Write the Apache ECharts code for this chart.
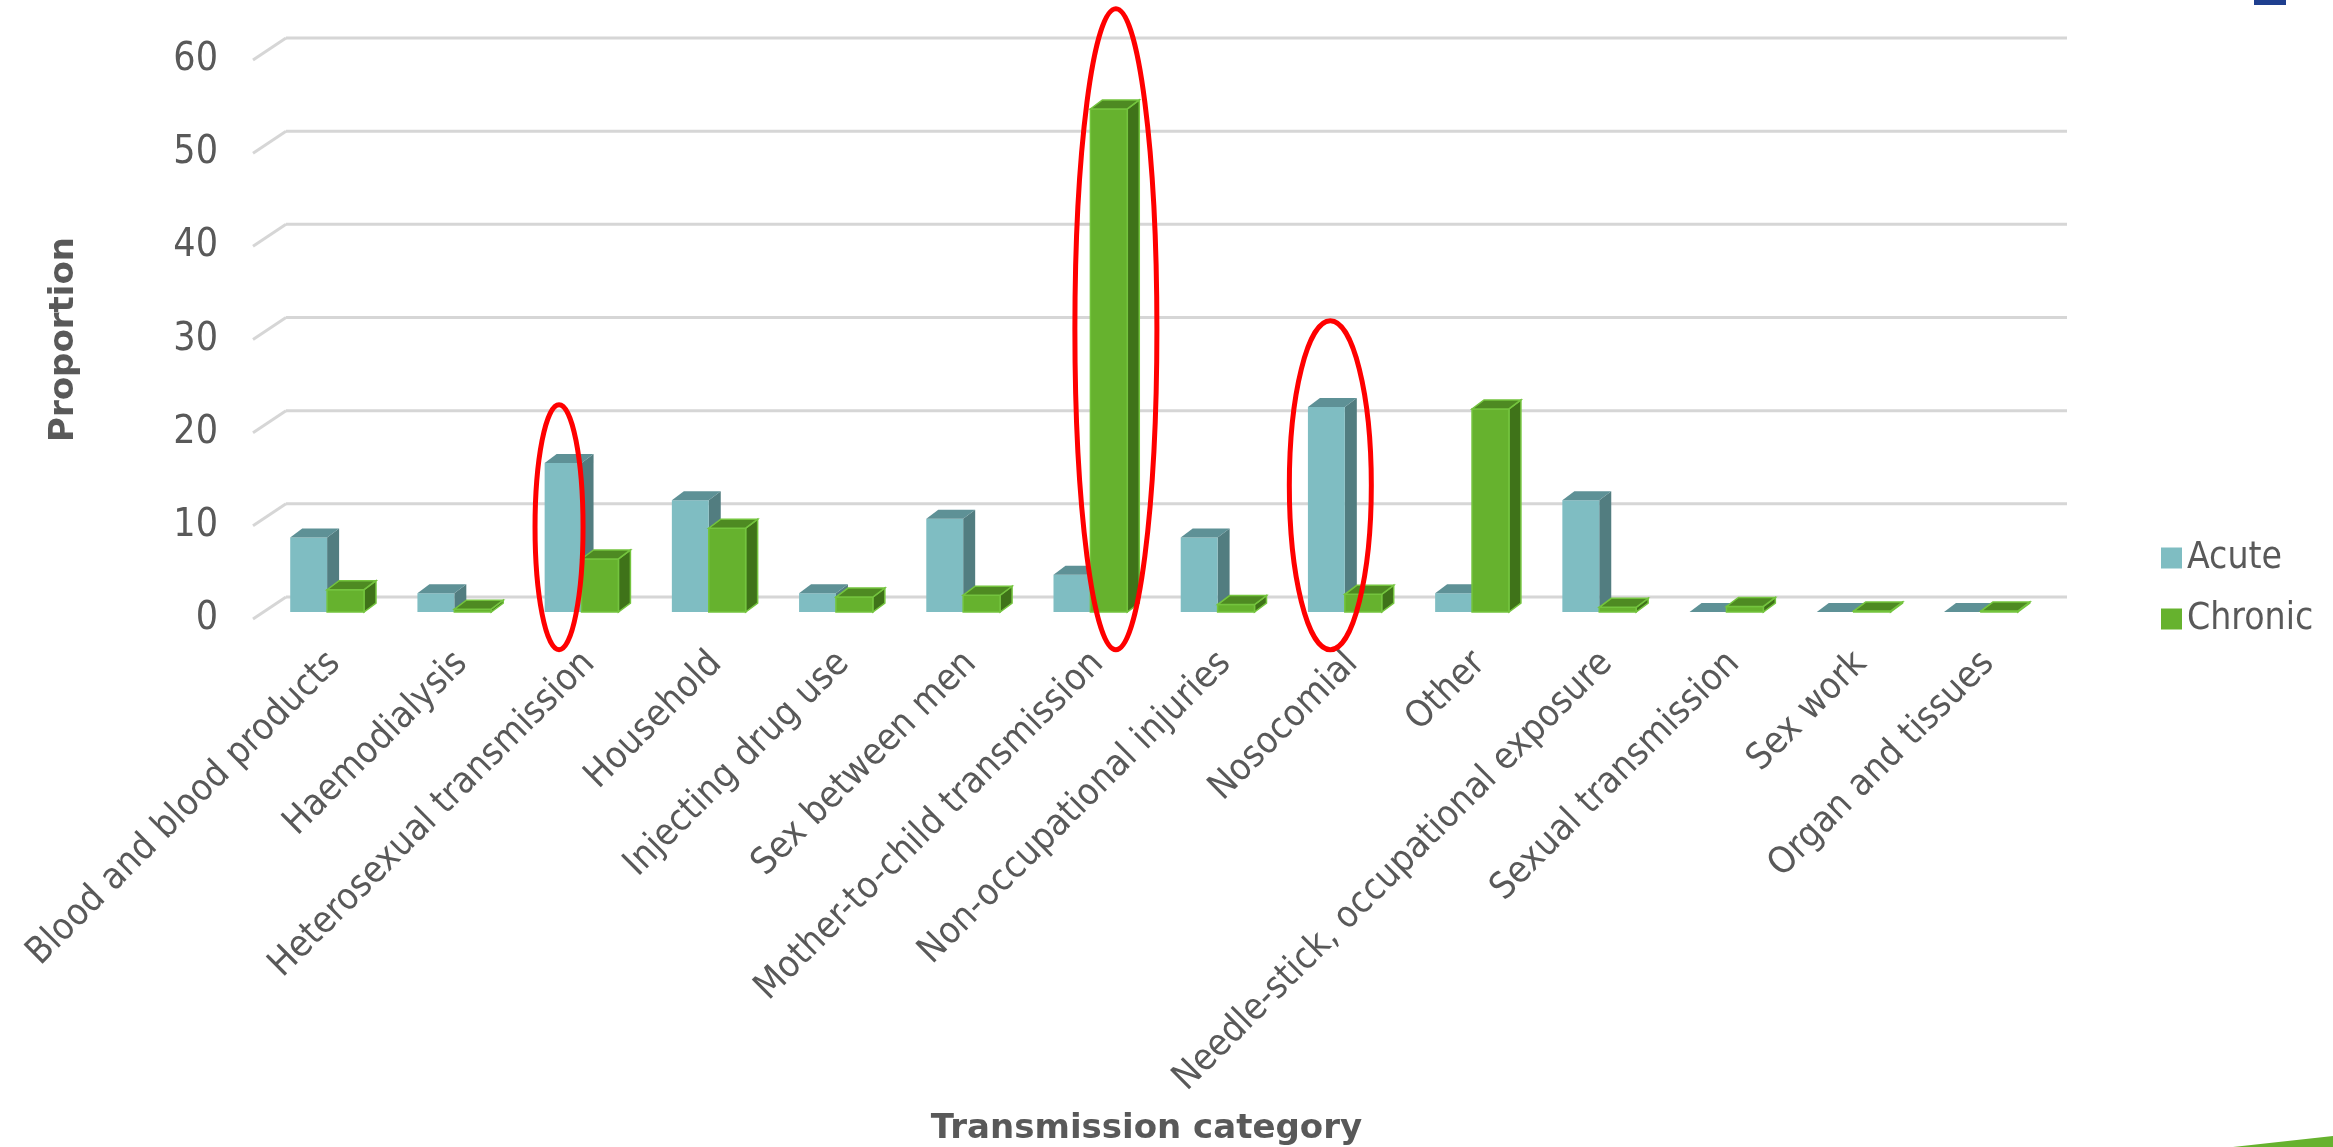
<!DOCTYPE html>
<html>
<head>
<meta charset="utf-8">
<style>
  html, body { margin: 0; padding: 0; background: #ffffff; }
  #chart { width: 2333px; height: 1147px; }
</style>
<script src="https://cdn.jsdelivr.net/npm/echarts@6/dist/echarts.min.js"></script>
</head>
<body>
<div id="chart"></div>
<script>
// ---------- data ----------
var categories = [
  'Blood and blood products', 'Haemodialysis', 'Heterosexual transmission',
  'Household', 'Injecting drug use', 'Sex between men',
  'Mother-to-child transmission', 'Non-occupational injuries', 'Nosocomial',
  'Other', 'Needle-stick, occupational exposure', 'Sexual transmission',
  'Sex work', 'Organ and tissues'
];
var acuteValues   = [8, 2, 16, 12, 2, 10, 4, 8, 22, 2, 12, 0, 0, 0];
var chronicValues = [2.4, 0.3, 5.7, 9, 1.6, 1.8, 54, 0.8, 1.9, 21.8, 0.5, 0.6, 0.1, 0.1];
var yTicks = [0, 10, 20, 30, 40, 50, 60];
// highlighted categories (red rings) and the value range each ring spans
var ringCategories = [2, 6, 8];
var ringTopValues  = [23, 65.5, 32];
var ringBottomValue = -3.3;

// ---------- style / geometry constants ----------
var FONT = '"DejaVu Sans Condensed", "DejaVu Sans", sans-serif';
var TITLE_FONT = '"DejaVu Sans", sans-serif';
var TEXT = '#595959';
var FLOOR_DX = 33, FLOOR_DY = -22;     // depth of the floor / back wall
var BAR_DX = 12, BAR_DY = -9;          // depth of a bar
var BAR_SHIFT_X = 10.5, BAR_SHIFT_Y = -7; // bars sit mid-depth on the floor
var BAR_W_FRAC = 0.29;                 // bar width as fraction of band
var ringShiftX = [-12, 36, -4];
var ringRx = [24, 41, 41];

var acuteStyle = { front: '#7fbdc2', top: '#5e9196', side: '#527d80', stroke: null };
var chronicStyle = { front: '#66b22e', top: '#4e8a22', side: '#3f7319', stroke: '#74c43e' };

function barRenderer(style, seriesPos) {
  return function (params, api) {
    var idx = api.value(0), val = api.value(1);
    var top = api.coord([idx, val]);
    var base = api.coord([idx, 0]);
    var band = api.size([1, 0])[0];
    var w = band * BAR_W_FRAC;
    var cx = top[0] + BAR_SHIFT_X;
    var xl = seriesPos === 0 ? cx - w : cx;
    var xr = xl + w;
    var yt = top[1] + BAR_SHIFT_Y;
    var yb = base[1] + BAR_SHIFT_Y;
    var st = style.stroke;
    var lw = st ? 1.5 : 0;
    return {
      type: 'group',
      children: [
        { type: 'polygon', shape: { points: [[xr, yt], [xr + BAR_DX, yt + BAR_DY], [xr + BAR_DX, yb + BAR_DY], [xr, yb]] },
          style: { fill: style.side, stroke: st, lineWidth: lw } },
        { type: 'rect', shape: { x: xl, y: yt, width: w, height: Math.max(0, yb - yt) },
          style: { fill: style.front, stroke: st, lineWidth: lw } },
        { type: 'polygon', shape: { points: [[xl, yt], [xr, yt], [xr + BAR_DX, yt + BAR_DY], [xl + BAR_DX, yt + BAR_DY]] },
          style: { fill: style.top, stroke: st, lineWidth: lw } }
      ]
    };
  };
}

var chart = echarts.init(document.getElementById('chart'), null, { renderer: 'canvas' });

var option = {
  backgroundColor: '#ffffff',
  animation: false,
  textStyle: { fontFamily: FONT },
  legend: {
    orient: 'vertical',
    left: 2156, top: 533,
    itemWidth: 21, itemHeight: 21, itemGap: 21,
    icon: 'rect',
    textStyle: { fontFamily: FONT, fontSize: 37, color: TEXT, lineHeight: 40 },
    data: [
      { name: 'Acute', itemStyle: { color: acuteStyle.front } },
      { name: 'Chronic', itemStyle: { color: chronicStyle.front } }
    ]
  },
  grid: [
    { left: 253, width: 1781, top: 60, height: 559 },
    { left: 271, width: 1781, top: 60, height: 559 }
  ],
  xAxis: [
    { type: 'category', gridIndex: 0, data: categories,
      axisLine: { show: false }, axisTick: { show: false }, axisLabel: { show: false } },
    { type: 'category', gridIndex: 1, data: categories,
      axisLine: { show: false }, axisTick: { show: false },
      axisLabel: { interval: 0, rotate: 45, margin: 46, fontFamily: FONT, fontSize: 37, color: TEXT },
      name: 'Transmission category', nameLocation: 'middle', nameGap: 500,
      nameTextStyle: { fontFamily: TITLE_FONT, fontSize: 34, fontWeight: 'bold', color: TEXT, padding: [0, 30, 0, 0] } }
  ],
  yAxis: [
    { type: 'value', gridIndex: 0, min: 0, max: 60, interval: 10,
      axisLine: { show: false }, axisTick: { show: false }, splitLine: { show: false },
      axisLabel: { margin: 35, fontFamily: FONT, fontSize: 39, color: TEXT },
      name: 'Proportion', nameLocation: 'middle', nameRotate: 90, nameGap: 172,
      nameTextStyle: { fontFamily: TITLE_FONT, fontSize: 34, fontWeight: 'bold', color: TEXT } },
    { type: 'value', gridIndex: 1, min: 0, max: 60, show: false }
  ],
  series: [
    { // floor stubs and back-wall gridlines
      type: 'custom', name: 'wall', xAxisIndex: 0, yAxisIndex: 0, silent: true, z: 1,
      data: yTicks.map(function (t) { return [0, t]; }),
      renderItem: function (params, api) {
        var p = api.coord([0, api.value(1)]);
        var cs = params.coordSys;
        var x0 = cs.x, x1 = cs.x + cs.width, y = p[1];
        var ls = { stroke: '#d6d6d6', lineWidth: 3 };
        return { type: 'group', children: [
          { type: 'line', shape: { x1: x0, y1: y, x2: x0 + FLOOR_DX, y2: y + FLOOR_DY }, style: ls },
          { type: 'line', shape: { x1: x0 + FLOOR_DX, y1: y + FLOOR_DY, x2: x1 + FLOOR_DX, y2: y + FLOOR_DY }, style: ls }
        ] };
      }
    },
    { type: 'custom', name: 'Acute', xAxisIndex: 0, yAxisIndex: 0, z: 2,
      itemStyle: { color: acuteStyle.front },
      data: acuteValues.map(function (v, i) { return [i, v]; }),
      renderItem: barRenderer(acuteStyle, 0) },
    { type: 'custom', name: 'Chronic', xAxisIndex: 0, yAxisIndex: 0, z: 3,
      itemStyle: { color: chronicStyle.front },
      data: chronicValues.map(function (v, i) { return [i, v]; }),
      renderItem: barRenderer(chronicStyle, 1) },
    { // red highlight rings
      type: 'custom', name: 'rings', xAxisIndex: 0, yAxisIndex: 0, z: 5, silent: true,
      data: ringCategories.map(function (c, k) { return [c, ringTopValues[k], k]; }),
      renderItem: function (params, api) {
        var k = api.value(2);
        var t = api.coord([api.value(0), api.value(1)]);
        var b = api.coord([api.value(0), ringBottomValue]);
        return { type: 'ellipse',
          shape: { cx: t[0] + ringShiftX[k], cy: (t[1] + b[1]) / 2, rx: ringRx[k], ry: (b[1] - t[1]) / 2 },
          style: { fill: null, stroke: '#ff0000', lineWidth: 5 } };
      }
    }
  ],
  graphic: [
    { type: 'rect', shape: { x: 2254, y: 0, width: 32, height: 5 }, style: { fill: '#1f3f8f' }, silent: true },
    { type: 'polygon', shape: { points: [[2233, 1147], [2333, 1136], [2333, 1147]] }, style: { fill: '#66b22e' }, silent: true }
  ]
};
chart.setOption(option);
</script>
</body>
</html>
